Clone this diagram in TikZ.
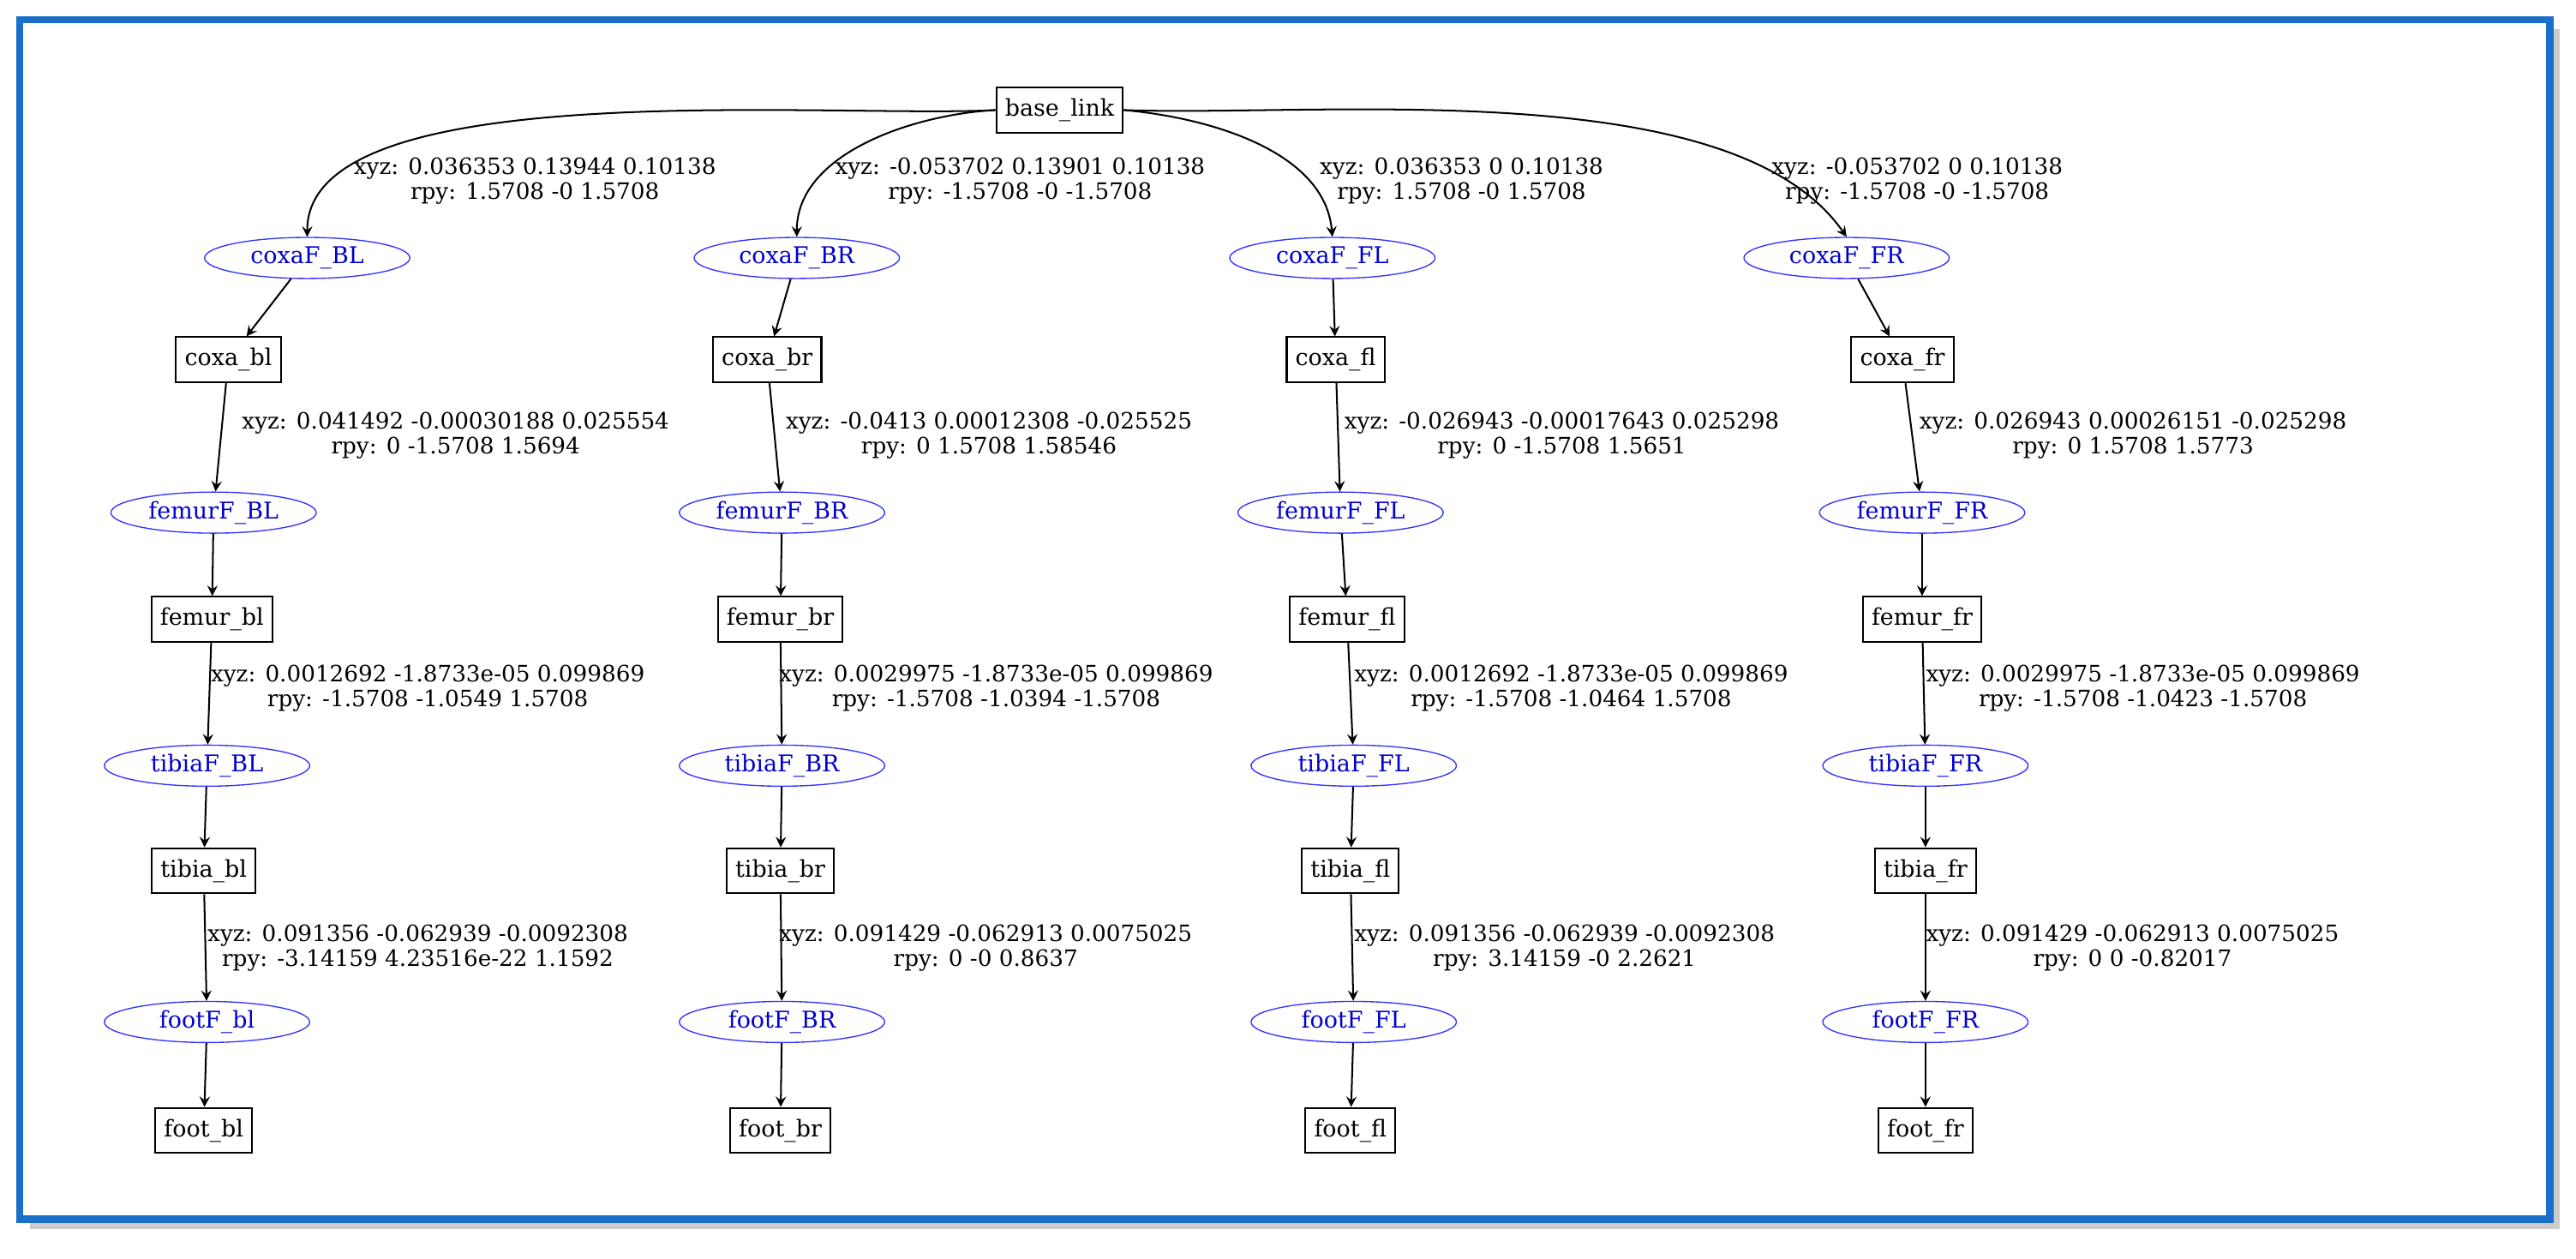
\documentclass[tikz,border=0pt]{standalone}
\usepackage{fontspec}
\setmainfont{DejaVu Serif}
\usetikzlibrary{arrows,shapes.geometric}
\definecolor{framecol}{RGB}{26,111,201}

\begin{document}
\begin{tikzpicture}[%
    x=0.02cm, y=-0.02cm,
    >=stealth,
    link/.style={draw, rectangle, semithick, inner sep=3pt, minimum height=0.55cm, font=\fontsize{8}{9}\selectfont},
    joint/.style={draw=blue!80, ellipse, text=blue!80!black, inner sep=1pt, minimum height=0.5cm, minimum width=2.5cm, font=\fontsize{8}{9}\selectfont},
    lbl/.style={anchor=west, align=center, inner sep=0pt, font=\fontsize{7.8}{8.6}\selectfont},
  ]
    \useasboundingbox (0,0) rectangle (1568,766);
    \fill[gray!40] (18,18) rectangle (1558,748);
    \fill[white] (12,12) rectangle (1552,742);
    \draw[line width=0.09cm, framecol] (12,12) rectangle (1552,742);

    \node[link] (base) at (645,67) {base\_link};

    \node[joint] (cBL) at (187,157) {coxaF\_BL};
    \node[joint] (cBR) at (485,157) {coxaF\_BR};
    \node[joint] (cFL) at (811,157) {coxaF\_FL};
    \node[joint] (cFR) at (1124,157) {coxaF\_FR};

    \node[link] (coxabl) at (139,219) {coxa\_bl};
    \node[link] (coxabr) at (467,219) {coxa\_br};
    \node[link] (coxafl) at (813,219) {coxa\_fl};
    \node[link] (coxafr) at (1158,219) {coxa\_fr};

    \node[joint] (fBL) at (130,312) {femurF\_BL};
    \node[joint] (fBR) at (476,312) {femurF\_BR};
    \node[joint] (fFL) at (816,312) {femurF\_FL};
    \node[joint] (fFR) at (1170,312) {femurF\_FR};

    \node[link] (femurbl) at (129,377) {femur\_bl};
    \node[link] (femurbr) at (475,377) {femur\_br};
    \node[link] (femurfl) at (820,377) {femur\_fl};
    \node[link] (femurfr) at (1170,377) {femur\_fr};

    \node[joint] (tBL) at (126,466) {tibiaF\_BL};
    \node[joint] (tBR) at (476,466) {tibiaF\_BR};
    \node[joint] (tFL) at (824,466) {tibiaF\_FL};
    \node[joint] (tFR) at (1172,466) {tibiaF\_FR};

    \node[link] (tibiabl) at (124,530) {tibia\_bl};
    \node[link] (tibiabr) at (475,530) {tibia\_br};
    \node[link] (tibiafl) at (822,530) {tibia\_fl};
    \node[link] (tibiafr) at (1172,530) {tibia\_fr};

    \node[joint] (ftBL) at (126,622) {footF\_bl};
    \node[joint] (ftBR) at (476,622) {footF\_BR};
    \node[joint] (ftFL) at (824,622) {footF\_FL};
    \node[joint] (ftFR) at (1172,622) {footF\_FR};

    \node[link] (footbl) at (124,688) {foot\_bl};
    \node[link] (footbr) at (475,688) {foot\_br};
    \node[link] (footfl) at (822,688) {foot\_fl};
    \node[link] (footfr) at (1172,688) {foot\_fr};

    % joint labels
    \node[lbl] (lcBL) at (215,110) {xyz: 0.036353 0.13944 0.10138\\rpy: 1.5708 -0 1.5708};
    \node[lbl] (lcBR) at (508,110) {xyz: -0.053702 0.13901 0.10138\\rpy: -1.5708 -0 -1.5708};
    \node[lbl] (lcFL) at (803,110) {xyz: 0.036353 0 0.10138\\rpy: 1.5708 -0 1.5708};
    \node[lbl] (lcFR) at (1078,110) {xyz: -0.053702 0 0.10138\\rpy: -1.5708 -0 -1.5708};

    \node[lbl] (lfBL) at (147,265) {xyz: 0.041492 -0.00030188 0.025554\\rpy: 0 -1.5708 1.5694};
    \node[lbl] (lfBR) at (478,265) {xyz: -0.0413 0.00012308 -0.025525\\rpy: 0 1.5708 1.58546};
    \node[lbl] (lfFL) at (818,265) {xyz: -0.026943 -0.00017643 0.025298\\rpy: 0 -1.5708 1.5651};
    \node[lbl] (lfFR) at (1168,265) {xyz: 0.026943 0.00026151 -0.025298\\rpy: 0 1.5708 1.5773};

    \node[lbl] (ltBL) at (128,419) {xyz: 0.0012692 -1.8733e-05 0.099869\\rpy: -1.5708 -1.0549 1.5708};
    \node[lbl] (ltBR) at (474,419) {xyz: 0.0029975 -1.8733e-05 0.099869\\rpy: -1.5708 -1.0394 -1.5708};
    \node[lbl] (ltFL) at (824,419) {xyz: 0.0012692 -1.8733e-05 0.099869\\rpy: -1.5708 -1.0464 1.5708};
    \node[lbl] (ltFR) at (1172,419) {xyz: 0.0029975 -1.8733e-05 0.099869\\rpy: -1.5708 -1.0423 -1.5708};

    \node[lbl] (lftBL) at (126,577) {xyz: 0.091356 -0.062939 -0.0092308\\rpy: -3.14159 4.23516e-22 1.1592};
    \node[lbl] (lftBR) at (474,577) {xyz: 0.091429 -0.062913 0.0075025\\rpy: 0 -0 0.8637};
    \node[lbl] (lftFL) at (824,577) {xyz: 0.091356 -0.062939 -0.0092308\\rpy: 3.14159 -0 2.2621};
    \node[lbl] (lftFR) at (1172,577) {xyz: 0.091429 -0.062913 0.0075025\\rpy: 0 0 -0.82017};

    \path[->, semithick]
    (base.west) edge [out=183, in=90, looseness=0.6] (cBL.north)
    (base.west) edge [out=183, in=90, looseness=0.9] (cBR.north)
    (base.east) edge [out=-5, in=95, looseness=0.9] (cFL.north)
    (base.east) edge [out=-2, in=125, looseness=0.7] (cFR.north)
    (cBL) edge (coxabl)
    (cBR) edge (coxabr)
    (cFL) edge (coxafl)
    (cFR) edge (coxafr)
    (coxabl) edge (fBL)
    (coxabr) edge (fBR)
    (coxafl) edge (fFL)
    (coxafr) edge (fFR)
    (fBL) edge (femurbl)
    (fBR) edge (femurbr)
    (fFL) edge (femurfl)
    (fFR) edge (femurfr)
    (femurbl) edge (tBL)
    (femurbr) edge (tBR)
    (femurfl) edge (tFL)
    (femurfr) edge (tFR)
    (tBL) edge (tibiabl)
    (tBR) edge (tibiabr)
    (tFL) edge (tibiafl)
    (tFR) edge (tibiafr)
    (tibiabl) edge (ftBL)
    (tibiabr) edge (ftBR)
    (tibiafl) edge (ftFL)
    (tibiafr) edge (ftFR)
    (ftBL) edge (footbl)
    (ftBR) edge (footbr)
    (ftFL) edge (footfl)
    (ftFR) edge (footfr)
    ;
\end{tikzpicture}
\end{document}
